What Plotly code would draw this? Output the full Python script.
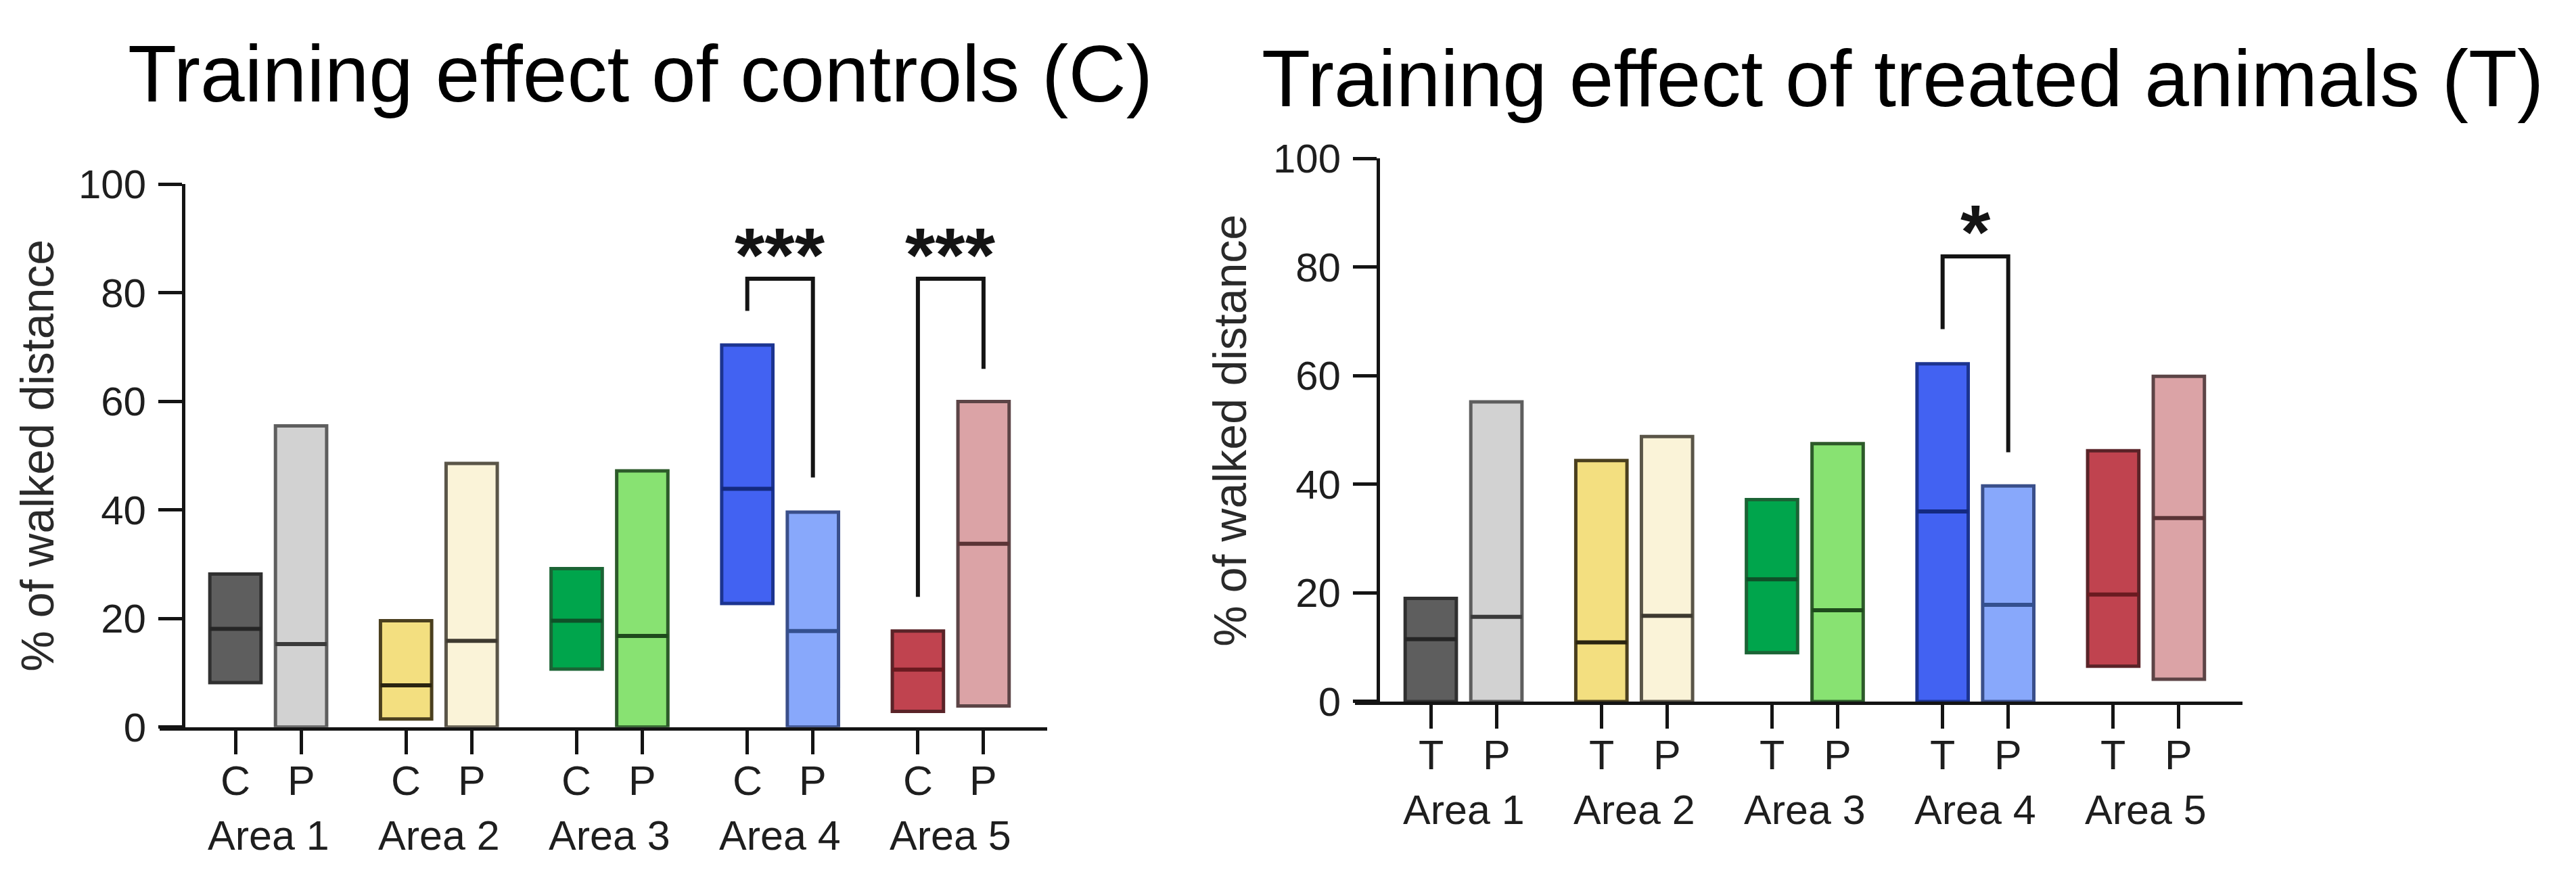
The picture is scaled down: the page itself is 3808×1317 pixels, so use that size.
import plotly.graph_objects as go

# page is 3808x1317; body has an 8px default margin, so the figure is drawn 8px in
PAGE_W, PAGE_H, OFF = 3808, 1317, 8
W, H = PAGE_W - 2 * OFF, PAGE_H - 2 * OFF


def px_x(p):
    return (p - OFF) / W


def px_y(p):
    return 1 - (p - OFF) / H


areas = ["Area 1", "Area 2", "Area 3", "Area 4", "Area 5"]

# Left chart: controls (C) vs probe (P) -- floating bars low..high with median line
ctrl_low = [8.2, 1.5, 10.7, 22.8, 2.9]
ctrl_med = [18.1, 7.7, 19.6, 43.9, 10.6]
ctrl_high = [28.2, 19.6, 29.2, 70.4, 17.7]
ctrlP_low = [0, 0, 0, 0, 3.9]
ctrlP_med = [15.3, 15.9, 16.8, 17.7, 33.8]
ctrlP_high = [55.5, 48.6, 47.2, 39.6, 60.0]

# Right chart: treated (T) vs probe (P)
trt_low = [0, 0, 9.0, 0, 6.5]
trt_med = [11.5, 10.9, 22.5, 35.0, 19.7]
trt_high = [19.0, 44.4, 37.2, 62.2, 46.2]
trtP_low = [0, 0, 0, 0, 4.1]
trtP_med = [15.6, 15.8, 16.8, 17.8, 33.8]
trtP_high = [55.2, 48.8, 47.5, 39.7, 59.9]

y_ticks = [0, 20, 40, 60, 80, 100]

# significance brackets: (area index, left leg end, right leg end, bracket top, label)
ctrl_sig = [(3, 76.7, 46.0, 82.6, "***"), (4, 24.0, 66.0, 82.6, "***")]
trt_sig = [(3, 68.6, 45.9, 82.0, "*")]

fill_main = ["#5e5e5e", "#f3df80", "#00a54c", "#4262f2", "#c0434f"]
line_main = ["#303030", "#4a3f1e", "#1b6435", "#1c3490", "#5a2328"]
med_main = ["#262626", "#2a2410", "#0f5028", "#142a80", "#6a1a20"]
fill_probe = ["#d2d2d2", "#faf3d8", "#88e272", "#88a8fb", "#dba3a6"]
line_probe = ["#5e5e5e", "#5a5548", "#2d5a2a", "#3a4f8a", "#5c4446"]
med_probe = ["#3a3a3a", "#3e3a30", "#1e4a1c", "#34508f", "#5a3436"]

GROUP_STEP = 2.6
BAR_W = 0.78
FONT = "Liberation Sans, Arial, sans-serif"
INK = "#141414"
LBL = "#1e1e1e"

fig = go.Figure()
shapes = []
annotations = []


def add_panel(xa, main_lbl, lows, meds, highs, plows, pmeds, phighs, sigs):
    xref = "x" if xa == 1 else "x%d" % xa
    yref = "y" if xa == 1 else "y%d" % xa
    xm = [i * GROUP_STEP for i in range(len(areas))]
    xp = [i * GROUP_STEP + 1 for i in range(len(areas))]
    fig.add_trace(go.Bar(
        x=xm, y=[h - l for h, l in zip(highs, lows)], base=lows, width=BAR_W,
        marker=dict(color=fill_main, line=dict(color=line_main, width=5)),
        xaxis=xref, yaxis=yref, showlegend=False, hoverinfo="skip"))
    fig.add_trace(go.Bar(
        x=xp, y=[h - l for h, l in zip(phighs, plows)], base=plows, width=BAR_W,
        marker=dict(color=fill_probe, line=dict(color=line_probe, width=5)),
        xaxis=xref, yaxis=yref, showlegend=False, hoverinfo="skip"))
    for i in range(len(areas)):
        for xc, m, c in ((xm[i], meds[i], med_main[i]), (xp[i], pmeds[i], med_probe[i])):
            shapes.append(dict(type="line", xref=xref, yref=yref,
                               x0=xc - BAR_W / 2, x1=xc + BAR_W / 2, y0=m, y1=m,
                               line=dict(color=c, width=6)))
        # group tick labels (C/T and P) under each tick
        for xc, t in ((xm[i], main_lbl), (xp[i], "P")):
            annotations.append(dict(x=xc, y=0, xref=xref, yref=yref, text=t,
                                    showarrow=False, yshift=-79,
                                    xanchor="center", yanchor="middle",
                                    font=dict(family=FONT, size=61, color=LBL)))
        annotations.append(dict(x=(xm[i] + xp[i]) / 2, y=0, xref=xref, yref=yref,
                                text=areas[i], showarrow=False, yshift=-160,
                                xanchor="center", yanchor="middle",
                                font=dict(family=FONT, size=61, color=LBL)))
    for (ai, lleg, rleg, top, lbl) in sigs:
        fig.add_trace(go.Scatter(
            x=[xm[ai], xm[ai], xp[ai], xp[ai]], y=[lleg, top, top, rleg],
            mode="lines", line=dict(color=INK, width=6),
            xaxis=xref, yaxis=yref, showlegend=False, hoverinfo="skip"))
        annotations.append(dict(x=(xm[ai] + xp[ai]) / 2, y=top, xref=xref, yref=yref,
                                text="<b>%s</b>" % lbl, showarrow=False, yshift=36,
                                xanchor="center", yanchor="middle",
                                font=dict(family=FONT, size=114, color=INK)))
    return xm, xp


xm1, xp1 = add_panel(1, "C", ctrl_low, ctrl_med, ctrl_high,
                     ctrlP_low, ctrlP_med, ctrlP_high, ctrl_sig)
xm2, xp2 = add_panel(2, "T", trt_low, trt_med, trt_high,
                     trtP_low, trtP_med, trtP_high, trt_sig)


def xaxis_cfg(dom_px, anchor, vals):
    return dict(domain=[px_x(dom_px[0]), px_x(dom_px[1])], range=[-1.155, 12.37],
                anchor=anchor, showgrid=False, zeroline=False,
                showline=True, linecolor=INK, linewidth=5,
                ticks="outside", ticklen=35, tickwidth=5, tickcolor=INK,
                tickvals=vals, showticklabels=False, fixedrange=True)


def yaxis_cfg(y0_px, y100_px, pos_px):
    return dict(domain=[px_y(y0_px), px_y(y100_px)], range=[0, 100],
                anchor="free", position=px_x(pos_px), showgrid=False, zeroline=False,
                showline=True, linecolor=INK, linewidth=5,
                ticks="outside", ticklen=35, tickwidth=5, tickcolor=INK,
                tickvals=y_ticks, ticktext=[str(v) for v in y_ticks],
                ticklabelstandoff=6,
                tickfont=dict(family=FONT, size=60, color=LBL), fixedrange=True)


fig.update_layout(
    width=W, height=H, margin=dict(l=0, r=0, t=0, b=0),
    paper_bgcolor="white", plot_bgcolor="white", barmode="overlay",
    xaxis=xaxis_cfg((236, 1548), "y", xm1 + xp1),
    yaxis=yaxis_cfg(1098, 252, 271),
    xaxis2=xaxis_cfg((2003, 3315), "y2", xm2 + xp2),
    yaxis2=yaxis_cfg(1058, 212, 2037),
)

# titles and y-axis titles
annotations.append(dict(x=px_x(946), y=px_y(80), xref="paper", yref="paper",
                        text="Training effect of controls (C)", showarrow=False,
                        xanchor="center", yanchor="middle",
                        font=dict(family=FONT, size=118, color="black")))
annotations.append(dict(x=px_x(2812), y=px_y(87), xref="paper", yref="paper",
                        text="Training effect of treated animals (T)", showarrow=False,
                        xanchor="center", yanchor="middle",
                        font=dict(family=FONT, size=118, color="black")))
for xc, yc in ((55, 675), (1818, 636)):
    annotations.append(dict(x=px_x(xc), y=px_y(yc), xref="paper", yref="paper",
                            text="% of walked distance", showarrow=False, textangle=-90,
                            xanchor="center", yanchor="middle",
                            font=dict(family=FONT, size=68, color="#2a2a2a")))

fig.update_layout(shapes=shapes, annotations=annotations)
fig.write_html("out.html")
